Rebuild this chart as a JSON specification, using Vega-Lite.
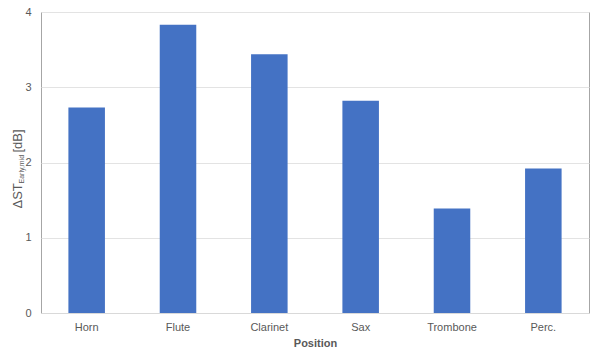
{
  "$schema": "https://vega.github.io/schema/vega-lite/v6.json",
  "autosize": {"type": "none"},
  "padding": {"left": 41, "top": 12, "right": 11, "bottom": 41},
  "width": 548,
  "height": 301,
  "background": "white",
  "config": {
    "view": {"stroke": "#a6a6a6", "strokeWidth": 1},
    "font": "Liberation Sans",
    "axis": {
      "labelFont": "Liberation Sans",
      "titleFont": "Liberation Sans",
      "labelColor": "#595959",
      "titleColor": "#595959",
      "labelFontSize": 11,
      "titleFontSize": 11
    }
  },
  "data": {
    "values": [
      {"position": "Horn", "value": 2.73},
      {"position": "Flute", "value": 3.83},
      {"position": "Clarinet", "value": 3.44},
      {"position": "Sax", "value": 2.82},
      {"position": "Trombone", "value": 1.39},
      {"position": "Perc.", "value": 1.92}
    ]
  },
  "encoding": {
    "x": {
      "field": "position",
      "type": "nominal",
      "sort": null,
      "scale": {"paddingInner": 0.6, "paddingOuter": 0.3},
      "axis": {
        "title": "Position",
        "titleFontWeight": "bold",
        "titlePadding": 5,
        "labelAngle": 0,
        "ticks": false,
        "labelPadding": 8,
        "domainColor": "#d9d9d9"
      }
    }
  },
  "layer": [
    {
      "mark": {"type": "bar", "color": "#4472C4"},
      "encoding": {
        "y": {
          "field": "value",
          "type": "quantitative",
          "scale": {"domain": [0, 4]},
          "axis": {
            "orient": "left",
            "title": "ΔST",
            "titleFontWeight": "normal",
            "titleFontSize": 13,
            "titleAngle": -90,
            "titleAlign": "left",
            "titleBaseline": "alphabetic",
            "titleX": -20,
            "titleY": 196,
            "values": [0, 1, 2, 3, 4],
            "ticks": false,
            "domain": false,
            "labelPadding": 10,
            "gridColor": "#e3e3e3"
          }
        }
      }
    },
    {
      "mark": {"type": "bar", "opacity": 0},
      "encoding": {
        "y": {
          "field": "value",
          "type": "quantitative",
          "scale": {"domain": [0, 4]},
          "axis": {
            "orient": "left",
            "title": "Early,mid",
            "titleFontWeight": "normal",
            "titleFontSize": 7,
            "titleAngle": -90,
            "titleAlign": "left",
            "titleBaseline": "alphabetic",
            "titleX": -18,
            "titleY": 171,
            "labels": false,
            "ticks": false,
            "domain": false,
            "grid": false
          }
        }
      }
    },
    {
      "mark": {"type": "bar", "opacity": 0},
      "encoding": {
        "y": {
          "field": "value",
          "type": "quantitative",
          "scale": {"domain": [0, 4]},
          "axis": {
            "orient": "left",
            "title": "[dB]",
            "titleFontWeight": "normal",
            "titleFontSize": 13,
            "titleAngle": -90,
            "titleAlign": "left",
            "titleBaseline": "alphabetic",
            "titleX": -20,
            "titleY": 140,
            "labels": false,
            "ticks": false,
            "domain": false,
            "grid": false
          }
        }
      }
    }
  ],
  "resolve": {"axis": {"y": "independent"}}
}
